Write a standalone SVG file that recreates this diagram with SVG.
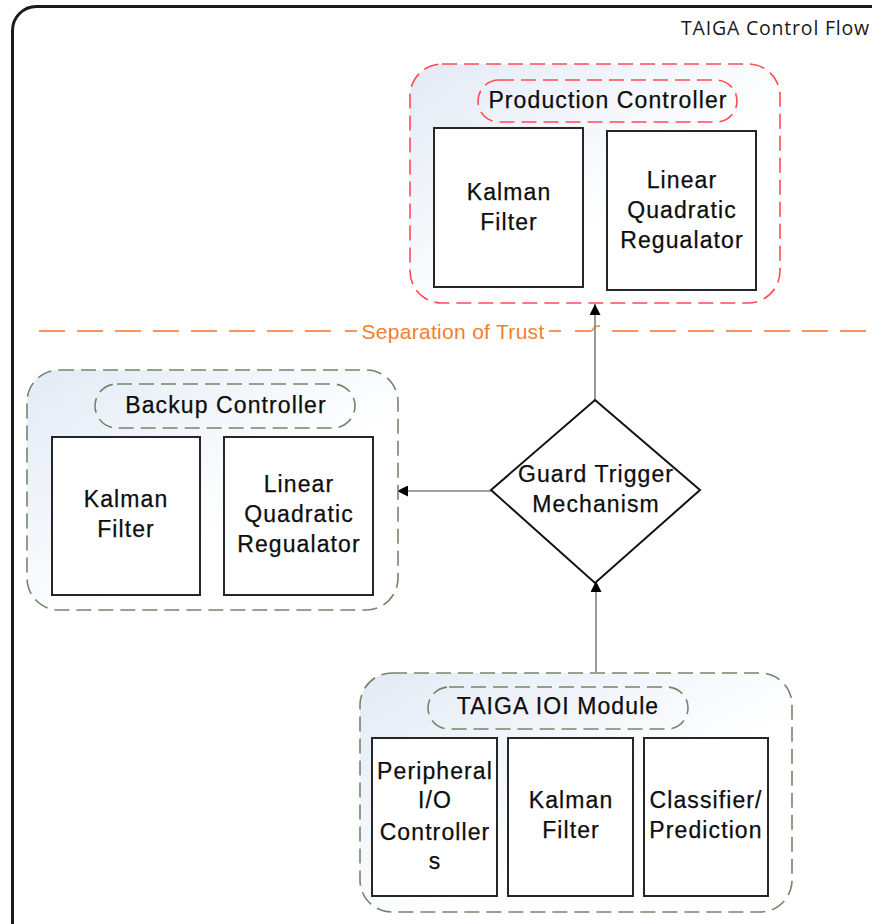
<svg xmlns="http://www.w3.org/2000/svg" width="872" height="924" viewBox="0 0 872 924">
  <style>
    .txt { font-family: "Liberation Sans", Arial, sans-serif; font-size: 23px; fill: #0d0d0d; stroke: #0d0d0d; stroke-width: 0.25px; letter-spacing: 1.1px; text-anchor: middle; }
    .box { fill: #ffffff; stroke: #262626; stroke-width: 2; }
    .red { fill: url(#panel); stroke: #ff4b55; stroke-width: 1.6; stroke-dasharray: 15 7; }
    .redpill { fill: none; stroke: #ff4b55; stroke-width: 1.6; stroke-dasharray: 15 7; }
    .grn { fill: url(#panel); stroke: #73866a; stroke-width: 1.6; stroke-dasharray: 15 7; }
    .grnpill { fill: none; stroke: #73866a; stroke-width: 1.6; stroke-dasharray: 15 7; }
    .conn { fill: none; stroke: #808080; stroke-width: 1.6; marker-end: url(#arrow); }
    .trust { fill: none; stroke: #f5965a; stroke-width: 2; }
  </style>
  <defs>
    <linearGradient id="panel" x1="0" y1="0" x2="1" y2="1">
      <stop offset="0" stop-color="#e3eaf5"/>
      <stop offset="0.6" stop-color="#ffffff"/>
    </linearGradient>
    <marker id="arrow" viewBox="0 0 10 10" refX="10" refY="5" markerWidth="11" markerHeight="11" markerUnits="userSpaceOnUse" orient="auto">
      <path d="M0 0 L10 5 L0 10 Z" fill="#000"/>
    </marker>
  </defs>

  <rect width="872" height="924" fill="#ffffff"/>

  <!-- outer frame -->
  <rect x="12.5" y="6.5" width="900" height="960" rx="24" fill="none" stroke="#1a1a1a" stroke-width="3"/>
  <text x="870" y="35" style="font-family: 'Open Sans', 'Liberation Sans', sans-serif; font-size: 19.5px; fill: #1a1a1a; letter-spacing: 0.8px;" text-anchor="end">TAIGA Control Flow</text>

  <!-- separation of trust boundary -->
  <g id="trust-line">
    <path class="trust" d="M39 331 H335" stroke-dasharray="26 12"/>
    <path class="trust" d="M345 331 H357"/>
    <text x="453" y="339" style="font-family: 'Liberation Sans', Arial, sans-serif; font-size: 21px; fill: #f0802e; letter-spacing: 0.3px;" text-anchor="middle">Separation of Trust</text>
    <path class="trust" d="M549 331 H561"/>
    <path class="trust" d="M575 331 H590 Q593 331 594 328 Q595 326 600 326"/>
    <path class="trust" d="M612 331 H872" stroke-dasharray="26 12"/>
  </g>

  <!-- connectors -->
  <g id="connectors">
    <path class="conn" d="M595 400 V304"/>
    <path class="conn" d="M491 491 H397"/>
    <path class="conn" d="M596 672 V581"/>
  </g>

  <!-- production controller -->
  <g id="production-controller">
    <rect class="red" x="410" y="64" width="370" height="239" rx="32"/>
    <rect class="redpill" x="478" y="80" width="259" height="42" rx="21"/>
    <text class="txt" x="608" y="108">Production Controller</text>
    <rect class="box" x="434" y="128" width="149" height="159"/>
    <text class="txt" x="509" y="200">Kalman</text>
    <text class="txt" x="509" y="230">Filter</text>
    <rect class="box" x="607" y="131" width="149" height="159"/>
    <text class="txt" x="682" y="188">Linear</text>
    <text class="txt" x="682" y="218">Quadratic</text>
    <text class="txt" x="682" y="248">Regualator</text>
  </g>

  <!-- backup controller -->
  <g id="backup-controller">
    <rect class="grn" x="27" y="370" width="371" height="240" rx="32"/>
    <rect class="grnpill" x="95" y="384" width="260" height="44" rx="22"/>
    <text class="txt" x="226" y="413">Backup Controller</text>
    <rect class="box" x="52" y="437" width="148" height="158"/>
    <text class="txt" x="126" y="507">Kalman</text>
    <text class="txt" x="126" y="537">Filter</text>
    <rect class="box" x="224" y="437" width="149" height="158"/>
    <text class="txt" x="299" y="492">Linear</text>
    <text class="txt" x="299" y="522">Quadratic</text>
    <text class="txt" x="299" y="552">Regualator</text>
  </g>

  <!-- guard trigger -->
  <g id="guard-trigger">
    <polygon points="595,400 700,490 595,583 491,490" fill="#ffffff" stroke="#111" stroke-width="2"/>
    <text class="txt" x="596" y="482">Guard Trigger</text>
    <text class="txt" x="596" y="512">Mechanism</text>
  </g>

  <!-- TAIGA IOI module -->
  <g id="ioi-module">
    <rect class="grn" x="360" y="673" width="432" height="239" rx="32"/>
    <rect class="grnpill" x="428" y="687" width="260" height="42" rx="21"/>
    <text class="txt" x="558" y="714">TAIGA IOI Module</text>
    <rect class="box" x="372" y="738" width="125" height="158"/>
    <text class="txt" x="435" y="779">Peripheral</text>
    <text class="txt" x="435" y="808">I/O</text>
    <text class="txt" x="435" y="840">Controller</text>
    <text class="txt" x="435" y="869">s</text>
    <rect class="box" x="508" y="738" width="125" height="158"/>
    <text class="txt" x="571" y="808">Kalman</text>
    <text class="txt" x="571" y="838">Filter</text>
    <rect class="box" x="644" y="738" width="124" height="158"/>
    <text class="txt" x="706" y="808">Classifier/</text>
    <text class="txt" x="706" y="838">Prediction</text>
  </g>
</svg>
